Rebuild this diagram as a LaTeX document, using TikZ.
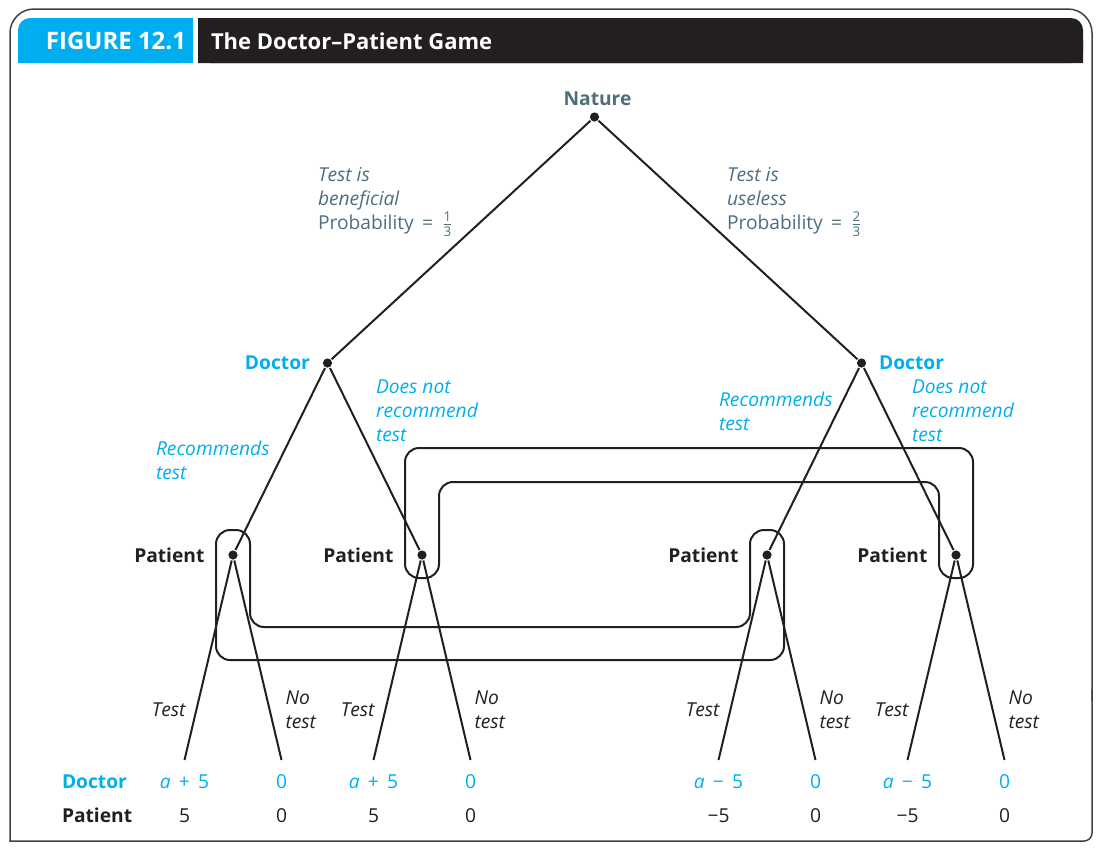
\documentclass[tikz,border=0pt]{standalone}
\usepackage{amsmath}
\usepackage{fontspec}
\setmainfont{Open Sans}
\definecolor{figcyan}{HTML}{00AEEF}
\definecolor{figslate}{HTML}{4F6E7D}
\definecolor{figink}{HTML}{231F20}

\begin{document}
\begin{tikzpicture}[x=0.5pt,y=-0.5pt, line width=1pt, draw=figink,
    font=\fontsize{9.6}{12}\selectfont,
    dot/.style={circle, fill=figink, inner sep=0pt, minimum size=4.6pt},
    natlab/.style={text=figslate, font=\fontsize{9.6}{12}\selectfont\bfseries, inner sep=0pt, label distance=2.5pt, xshift=1.5pt},
    doclab/.style={text=figcyan, font=\fontsize{9.6}{12}\selectfont\bfseries, inner sep=0pt, label distance=5.5pt},
    patlab/.style={text=figink, font=\fontsize{9.6}{12}\selectfont\bfseries, inner sep=0pt, label distance=11pt},
    chance/.style={text=figslate, align=left, inner sep=0pt, anchor=north west},
    docmove/.style={text=figcyan, font=\fontsize{9.6}{12}\selectfont\itshape, align=left, inner sep=0pt, anchor=north west},
    patmove/.style={text=figink, font=\fontsize{9.6}{12}\selectfont\itshape, align=left, inner sep=0pt},
    pay/.style={inner sep=0pt, text height=7pt, text depth=0pt}
]
\useasboundingbox (0,0) rectangle (1106,852);

% frame and heading
\draw[figink!85, line width=0.75pt, line cap=rect, rounded corners=12pt] (10,841) -- (10,9) -- (1092,9) -- (1092,700);
\draw[figink!85, line width=0.75pt, line cap=rect, rounded corners=4pt] (1092,690) -- (1092,841) -- (10,841);
\fill[figcyan, rounded corners=6pt] (18,18) rectangle (193,63);
\fill[figcyan] (18,40) rectangle (193,63) (100,18) rectangle (193,63);
\fill[figink, rounded corners=6pt] (198,18) rectangle (1083,63);
\fill[figink] (198,40) rectangle (1083,63) (198,18) rectangle (1000,63);
\node[text=white, font=\fontsize{12}{14}\selectfont\bfseries, inner sep=0pt, anchor=east] (fignum) at (187,41) {FIGURE 12.1};
\node[text=white, font=\fontsize{11}{14}\selectfont\bfseries, inner sep=0pt, anchor=west] (figtitle) at (210,41) {The Doctor--Patient Game};

\tikzstyle{level 1}=[sibling distance=267pt, level distance=123pt]
\tikzstyle{level 2}=[sibling distance=94.5pt, level distance=96pt]
\tikzstyle{level 3}=[sibling distance=48.5pt, level distance=102.5pt]
\node[dot, label={[natlab]above:Nature}] (nature) at (594.5,117) {}
child {
    node[dot, label={[doclab]left:Doctor}] (docb) {}
    child {
        node[dot, label={[patlab]left:Patient}] (patbr) {}
        child { coordinate (lbrt) }
        child { coordinate (lbrn) }
    }
    child {
        node[dot, label={[patlab]left:Patient}] (patbd) {}
        child { coordinate (lbdt) }
        child { coordinate (lbdn) }
    }
}
child {
    node[dot, label={[doclab]right:Doctor}] (docu) {}
    child {
        node[dot, label={[patlab]left:Patient}] (patur) {}
        child { coordinate (lurt) }
        child { coordinate (lurn) }
    }
    child {
        node[dot, label={[patlab]left:Patient}] (patud) {}
        child { coordinate (ludt) }
        child { coordinate (ludn) }
    }
}
    ;

% information sets of the patient
\draw[rounded corners=7pt] (216,600) -- (216,660) -- (784,660) -- (784,530) -- (750,530)
    -- (750,627) -- (250,627) -- (250,530) -- (216,530) -- cycle;
\draw[rounded corners=7pt] (405,500) -- (405,578) -- (439,578) -- (439,482) -- (939,482)
    -- (939,578) -- (973,578) -- (973,448) -- (405,448) -- cycle;

% moves of nature and doctor
\node[chance] (probb) at (317,166) {\textit{Test is}\\\textit{beneficial}\\Probability \,=\, $\frac{\text{1}}{\text{3}}$};
\node[chance] (probu) at (726,166) {\textit{Test is}\\\textit{useless}\\Probability \,=\, $\frac{\text{2}}{\text{3}}$};
\node[docmove] (recb) at (155,440) {Recommends\\test};
\node[docmove] (notb) at (375,379) {Does not\\recommend\\test};
\node[docmove] (recu) at (718,391) {Recommends\\test};
\node[docmove] (notu) at (911,379) {Does not\\recommend\\test};

% moves of patient
\foreach \t/\n in {lbrt/lbrn, lbdt/lbdn, lurt/lurn, ludt/ludn} {
    \node[patmove, anchor=east] (m\t) at ([shift={(2,-50)}]\t) {Test};
    \node[patmove, anchor=west] (m\n) at ([shift={(3,-50)}]\n) {No\\test};
}

% payoffs
\node[pay, text=figcyan, font=\fontsize{9.6}{12}\selectfont\bfseries, anchor=west] (rowdoc) at (61,781) {Doctor};
\node[pay, text=figink, font=\fontsize{9.6}{12}\selectfont\bfseries, anchor=west] (rowpat) at (61,815) {Patient};
\foreach \l/\d/\p in {lbrt/{\textit{a} \,+\, 5}/5, lbrn/0/0, lbdt/{\textit{a} \,+\, 5}/5, lbdn/0/0,
                      lurt/{\textit{a} \,−\, 5}/−5, lurn/0/0, ludt/{\textit{a} \,−\, 5}/−5, ludn/0/0} {
    \node[pay, text=figcyan] (d\l) at ([shift={(0,21)}]\l) {\d};
    \node[pay, text=figink] (p\l) at ([shift={(0,55)}]\l) {\p};
}
\end{tikzpicture}
\end{document}
